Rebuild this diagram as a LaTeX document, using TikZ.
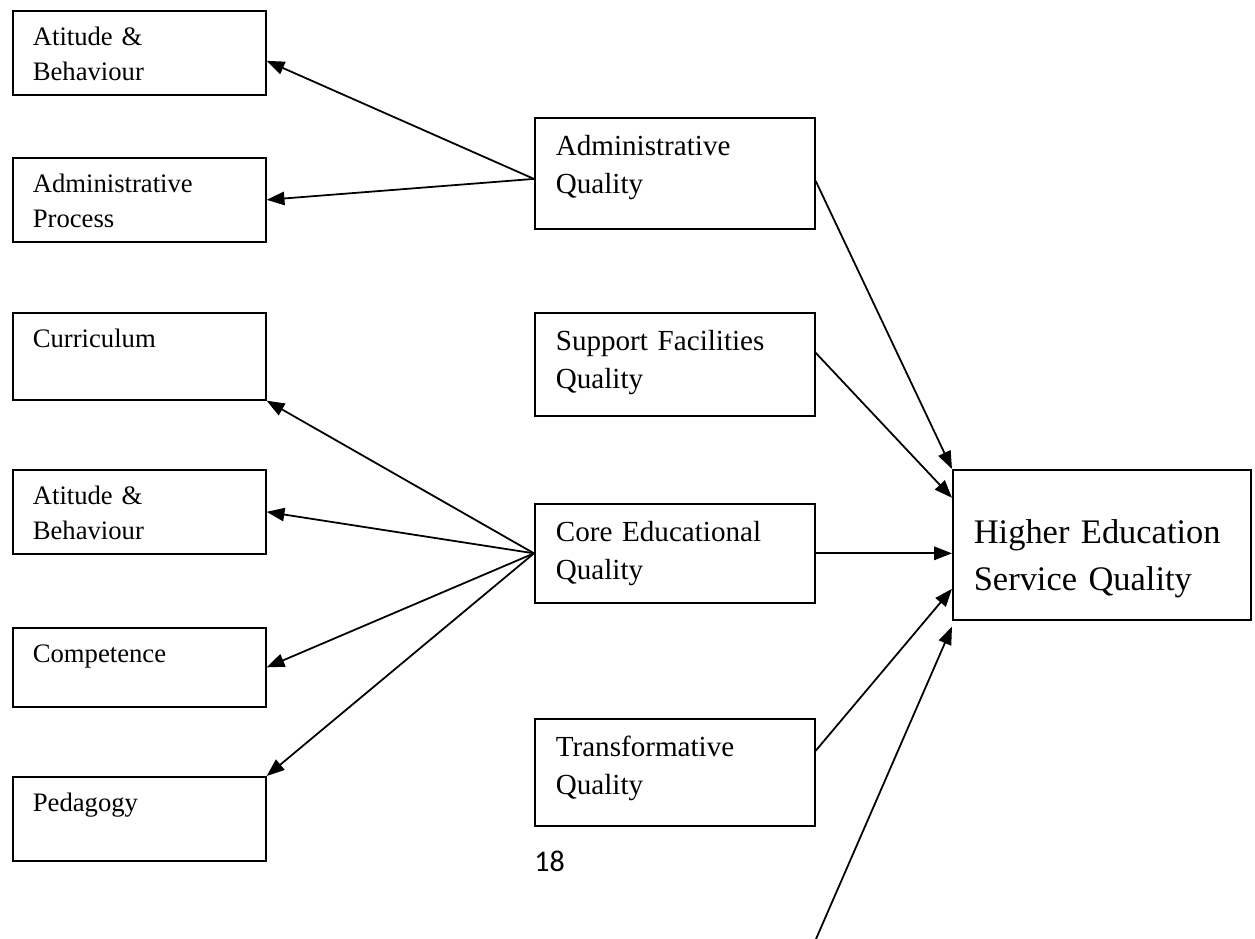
\documentclass[tikz,border=0pt]{standalone}
\usepackage{fontspec}
\setmainfont{Liberation Serif}
\newfontfamily\pagefont{Carlito}
\usetikzlibrary{positioning, arrows.meta, calc}

\tikzset{
  facet/.style={draw, line width=0.75pt, anchor=north west, align=left,
    inner xsep=9pt, inner ysep=0pt, text width=95.85pt,
    font=\fontsize{12}{15.75}\selectfont, text height=15.75pt, text depth=22.05pt},
  dimension/.style={draw, line width=0.75pt, anchor=north west, align=left,
    inner xsep=9.45pt, inner ysep=0pt, text width=107.1pt,
    font=\fontsize{13.1}{17.1}\selectfont, text height=17.1pt},
  outcome/.style={draw, line width=0.75pt, anchor=north west, align=left,
    inner xsep=9.45pt, inner ysep=0pt, text width=115.2pt,
    font=\fontsize{15.5}{21.15}\selectfont, text height=33.3pt, text depth=34.2pt},
  link/.style={line width=0.8pt, -{Triangle[length=8pt,width=6pt]}}
}

\begin{document}
\begin{tikzpicture}[x=0.45pt, y=-0.45pt]
 \useasboundingbox (0,0) rectangle (1255,939);
 % left column
 \node[facet] (attA) at (12,10) {Atitude \&\\Behaviour};
 \node[facet] (proc) at (12,157) {Administrative\\Process};
 \node[facet, text depth=23.4pt] (curr) at (12,312) {Curriculum};
 \node[facet] (attB) at (12,469) {Atitude \&\\Behaviour};
 \node[facet, text depth=19.8pt] (comp) at (12,627) {Competence};
 \node[facet] (peda) at (12,776) {Pedagogy};
 % middle column
 \node[dimension, text depth=32.85pt] (admq) at (534,117) {Administrative\\Quality};
 \node[dimension, text depth=29.25pt] (supq) at (534,312) {Support Facilities\\Quality};
 \node[dimension, text depth=27.45pt] (coreq) at (534,503) {Core Educational\\Quality};
 \node[dimension, text depth=31.05pt] (trnq) at (534,718) {Transformative\\Quality};
 % outcome
 \node[outcome] (heq) at (952,469) {Higher Education\\Service Quality};
 \node[font=\pagefont\fontsize{13.5}{15}\selectfont, anchor=base west, inner sep=0pt] (pagenum) at (534,871) {18};
 \coordinate (loose) at (816,939);
 % connectors
 \draw[link] ([yshift=-2.5pt]admq.west) -- ([yshift=-3.6pt]attA.east);
 \draw[link] ([yshift=-2.5pt]admq.west) -- (proc.east);
 \draw[link] (coreq.west) -- (curr.south east);
 \draw[link] (coreq.west) -- (attB.east);
 \draw[link] (coreq.west) -- (comp.east);
 \draw[link] (coreq.west) -- (peda.north east);
 \draw[link] ([yshift=-3.4pt]admq.east) -- (heq.north west);
 \draw[link] ([yshift=5.2pt]supq.east) -- ($(heq.north west)!0.19!(heq.south west)$);
 \draw[link] (coreq.east) -- (coreq.east -| heq.west);
 \draw[link] ([yshift=9.7pt]trnq.east) -- ($(heq.north west)!0.79!(heq.south west)$);
 \draw[link] (loose) -- ([yshift=-2.7pt]heq.south west);
\end{tikzpicture}
\end{document}
